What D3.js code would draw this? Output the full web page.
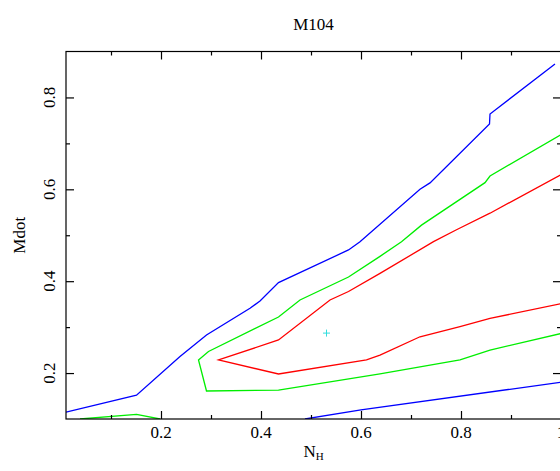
<!DOCTYPE html>
<html><head><meta charset="utf-8">
<script src="https://cdn.jsdelivr.net/npm/d3@7"></script>
<style>body{margin:0;background:#fff}svg{display:block}</style>
</head><body>
<script>
// Contour data: [N_H, Mdot] pairs
const blueOuterUpper = [[0.01,0.115],[0.151,0.152],[0.238,0.236],[0.291,0.283],[0.378,0.341],[0.398,0.357],[0.435,0.397],[0.575,0.468],[0.598,0.486],[0.718,0.600],[0.738,0.614],[0.857,0.742],[0.858,0.764],[0.988,0.873]];
const blueOuterLower = [[0.488,0.1],[0.600,0.120],[1.0,0.180]];
const greenMid = [[1.0,0.719],[0.858,0.629],[0.848,0.6145],[0.721,0.522],[0.681,0.486],[0.638,0.454],[0.575,0.409],[0.478,0.359],[0.435,0.322],[0.295,0.247],[0.275,0.2285],[0.291,0.161],[0.435,0.163],[0.638,0.198],[0.798,0.2285],[0.858,0.250],[1.0,0.286]];
const greenSmall = [[0.038,0.1],[0.151,0.110],[0.198,0.1]];
const redInner = [[1.0,0.632],[0.858,0.548],[0.791,0.512],[0.745,0.486],[0.638,0.417],[0.575,0.3775],[0.538,0.359],[0.435,0.272],[0.315,0.2285],[0.435,0.198],[0.611,0.2285],[0.638,0.239],[0.718,0.279],[0.798,0.301],[0.858,0.319],[1.0,0.351]];
const bestFit = [[0.531,0.287]];
const xMajorTicks = [0.2,0.4,0.6,0.8,1.0];
const xMinorTicks = [0.1,0.3,0.5,0.7,0.9];
const yMajorTicks = [0.2,0.4,0.6,0.8];
const yMinorTicks = [0.3,0.5,0.7];
const xTickLabels = ["0.2","0.4","0.6","0.8","1"];
const yTickLabels = ["0.2","0.4","0.6","0.8"];

const W=560,H=471;
const L=66,R=561,T=51.5,B=419;
const x=d3.scaleLinear().domain([0.01,1.0]).range([L,R]);
const y=d3.scaleLinear().domain([0.1,0.9]).range([B,T]);
const svg=d3.select("body").append("svg").attr("width",W).attr("height",H);
const font="'Liberation Serif','Times New Roman',serif";

svg.append("defs").append("clipPath").attr("id","clip").append("rect")
  .attr("x",L).attr("y",T).attr("width",R-L).attr("height",B-T);

const line=d3.line().x(d=>x(d[0])).y(d=>y(d[1]));
const g=svg.append("g").attr("clip-path","url(#clip)");
[[blueOuterUpper,"#0000ff"],[blueOuterLower,"#0000ff"],[greenMid,"#00ee00"],[greenSmall,"#00ee00"],[redInner,"#ff0000"]].forEach(([d,c])=>{
  g.append("path").datum(d).attr("d",line).attr("fill","none").attr("stroke",c).attr("stroke-width",1.3).attr("stroke-linejoin","miter");
});
bestFit.forEach(p=>{
  const cx=x(p[0]),cy=y(p[1]);
  g.append("path").attr("d",`M${cx-3.5},${cy}H${cx+3.5}M${cx},${cy-3.5}V${cy+3.5}`).attr("stroke","#33dddd").attr("stroke-width",1);
});

// frame
svg.append("rect").attr("x",L).attr("y",T).attr("width",R-L).attr("height",B-T)
  .attr("fill","none").attr("stroke","#000").attr("stroke-width",1.2);

// axes via d3 axis with inward ticks
const axes=svg.append("g");
function styleAxis(sel){sel.select(".domain").remove();sel.selectAll("line").attr("stroke","#000").attr("stroke-width",1.2);}
axes.append("g").attr("transform",`translate(0,${B})`).call(d3.axisTop(x).tickValues(xMajorTicks).tickSize(8).tickFormat("")).call(styleAxis);
axes.append("g").attr("transform",`translate(0,${B})`).call(d3.axisTop(x).tickValues(xMinorTicks).tickSize(4).tickFormat("")).call(styleAxis);
axes.append("g").attr("transform",`translate(0,${T})`).call(d3.axisBottom(x).tickValues(xMajorTicks).tickSize(8).tickFormat("")).call(styleAxis);
axes.append("g").attr("transform",`translate(0,${T})`).call(d3.axisBottom(x).tickValues(xMinorTicks).tickSize(4).tickFormat("")).call(styleAxis);
axes.append("g").attr("transform",`translate(${L},0)`).call(d3.axisRight(y).tickValues(yMajorTicks).tickSize(8).tickFormat("")).call(styleAxis);
axes.append("g").attr("transform",`translate(${L},0)`).call(d3.axisRight(y).tickValues(yMinorTicks).tickSize(4).tickFormat("")).call(styleAxis);
axes.append("g").attr("transform",`translate(${R},0)`).call(d3.axisLeft(y).tickValues(yMajorTicks).tickSize(8).tickFormat("")).call(styleAxis);
axes.append("g").attr("transform",`translate(${R},0)`).call(d3.axisLeft(y).tickValues(yMinorTicks).tickSize(4).tickFormat("")).call(styleAxis);

// tick labels
xMajorTicks.forEach((v,i)=>{
  svg.append("text").attr("x",x(v)).attr("y",438).attr("text-anchor","middle")
    .attr("font-family",font).attr("font-size",17).text(xTickLabels[i]);
});
yMajorTicks.forEach((v,i)=>{
  svg.append("text").attr("transform",`translate(55,${y(v)}) rotate(-90)`).attr("text-anchor","middle")
    .attr("font-family",font).attr("font-size",17).text(yTickLabels[i]);
});

// titles
svg.append("text").attr("x",(L+R)/2).attr("y",30).attr("text-anchor","middle")
  .attr("font-family",font).attr("font-size",17).text("M104");
const xl=svg.append("text").attr("x",(L+R)/2).attr("y",457).attr("text-anchor","middle")
  .attr("font-family",font).attr("font-size",17);
xl.append("tspan").text("N");
xl.append("tspan").attr("font-size",11).attr("dy",3).text("H");
svg.append("text").attr("transform",`translate(25,${(T+B)/2}) rotate(-90)`).attr("text-anchor","middle")
  .attr("font-family",font).attr("font-size",17).text("Mdot");
</script>
</body></html>
